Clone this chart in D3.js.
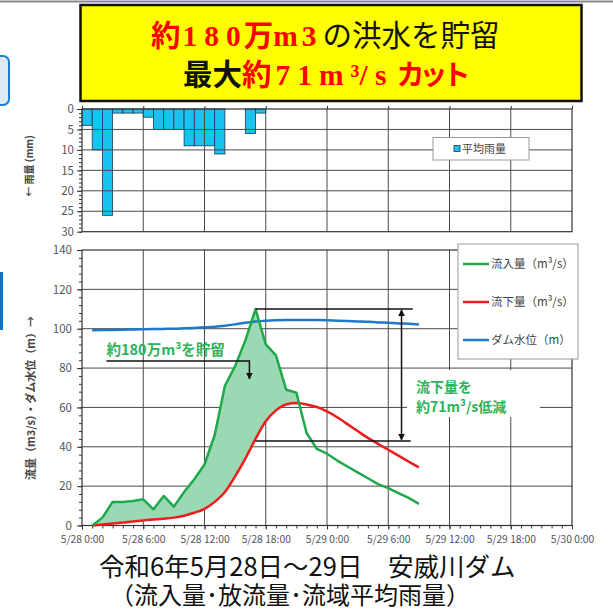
<!DOCTYPE html>
<html>
<head>
<meta charset="utf-8">
<script src="https://cdn.jsdelivr.net/npm/d3@7"></script>
<style>
  body { margin: 0; background: #fff; }
  svg { display: block; }
  text { font-family: "Noto Sans CJK JP", sans-serif; }
</style>
</head>
<body>
<div id="chart"></div>
<script>
// data (hours from 5/28 0:00)
var rainHours = [0, 1, 2, 3, 4, 5, 6, 7, 8, 9, 10, 11, 12, 13, 14, 15, 16, 17];
var rainMm = [4, 10, 26, 1, 1, 1, 2, 5, 5, 5, 9, 9, 9, 11, 0, 0, 6, 1];

var flowHours = [1, 2, 3, 4, 5, 6, 7, 8, 9, 10, 11, 12, 13, 14, 15, 16, 17,
                 18, 19, 20, 21, 22, 23, 24, 25, 26, 27, 28, 29, 30, 31, 32, 33];
var inflow = [0, 4, 12, 12, 12.5, 13.3, 8.2, 15, 9.6, 17, 23.5, 31, 46, 71, 81, 94, 110,
              92, 86.5, 69, 67.5, 47, 39, 36.5, 33, 30, 27, 24, 21, 19, 16.5, 14, 11];
var outflow = [0, 0.5, 1, 1.5, 2, 2.6, 3, 3.4, 4, 5, 6.5, 8.5, 12, 17, 25, 34, 44,
               53, 58.5, 61.5, 62.2, 61.5, 60.2, 58, 55, 51.5, 48, 44.5, 41.5, 38.5, 35.5, 32.5, 29.5];
var damLevel = [99.2, 99.3, 99.4, 99.5, 99.6, 99.7, 99.8, 99.9, 100, 100.2, 100.4, 100.7, 101,
                101.5, 102.2, 103, 103.7, 104.1, 104.3, 104.4, 104.4, 104.4, 104.4, 104.3,
                104.1, 103.9, 103.7, 103.5, 103.2, 103, 102.7, 102.5, 102.2];

var timeTicks = [0, 6, 12, 18, 24, 30, 36, 42, 48];
var timeLabels = ["5/28 0:00", "5/28 6:00", "5/28 12:00", "5/28 18:00", "5/29 0:00",
                  "5/29 6:00", "5/29 12:00", "5/29 18:00", "5/30 0:00"];
var rainTicks = [0, 5, 10, 15, 20, 25, 30];
var flowTicks = [0, 20, 40, 60, 80, 100, 120, 140];

var legendNames = ["流入量（m³/s）", "流下量（m³/s）", "ダム水位（m）"];
var legendColors = ["#20a84c", "#ee1d1d", "#1f78c8"];

// annotation values
var peakInflow = 110;
var cutLevel = 43;

var svgWidth = 613;
var svgHeight = 609;

var svg = d3.select("#chart").append("svg")
    .attr("width", svgWidth)
    .attr("height", svgHeight);

var defs = svg.append("defs");

// slide bits around the chart
svg.append("line").attr("x1", 0).attr("x2", svgWidth).attr("y1", 1.5).attr("y2", 1.5)
    .attr("stroke", "#8a8a8a").attr("stroke-width", 2);
svg.append("rect").attr("x", -10).attr("y", 56).attr("width", 19).attr("height", 49)
    .attr("rx", 6).attr("fill", "#dfe9f5").attr("stroke", "#1b7dd0").attr("stroke-width", 2);
svg.append("rect").attr("x", 0).attr("y", 272).attr("width", 3).attr("height", 58)
    .attr("fill", "#0a72c8");

// scales
var x = d3.scaleLinear().domain([0, 48]).range([82, 572]);
var yRain = d3.scaleLinear().domain([0, 30]).range([109, 231.7]);
var yFlow = d3.scaleLinear().domain([0, 140]).range([525.5, 250]);

var gridColor = "#4a4a4a";

// ---------- rain chart ----------
var rainG = svg.append("g");

rainG.selectAll(".rain-bar")
    .data(rainHours)
    .enter()
    .append("rect")
    .attr("class", "rain-bar")
    .attr("x", d => x(d))
    .attr("y", yRain(0))
    .attr("width", d => x(d + 1) - x(d))
    .attr("height", (d, i) => yRain(rainMm[i]) - yRain(0))
    .attr("fill", "#18c3f0")
    .attr("stroke", "#20384f")
    .attr("stroke-width", 0.8);

rainG.selectAll(".rain-hgrid")
    .data(rainTicks.slice(1, -1))
    .enter()
    .append("line")
    .attr("x1", x(0)).attr("x2", x(48))
    .attr("y1", d => yRain(d)).attr("y2", d => yRain(d))
    .attr("stroke", gridColor).attr("stroke-width", 1);

rainG.selectAll(".rain-vgrid")
    .data(timeTicks.slice(1, -1))
    .enter()
    .append("line")
    .attr("x1", d => x(d)).attr("x2", d => x(d))
    .attr("y1", yRain(0)).attr("y2", yRain(30))
    .attr("stroke", gridColor).attr("stroke-width", 1);

rainG.append("rect")
    .attr("x", x(0)).attr("y", yRain(0))
    .attr("width", x(48) - x(0)).attr("height", yRain(30) - yRain(0))
    .attr("fill", "none").attr("stroke", "#333").attr("stroke-width", 1.2);

// left axis + minor ticks
var rainAxis = rainG.append("g")
    .attr("transform", `translate(${x(0)},0)`)
    .call(d3.axisLeft(yRain).tickValues(rainTicks).tickSize(5).tickPadding(3));
var rainMinor = rainG.append("g")
    .attr("transform", `translate(${x(0)},0)`)
    .call(d3.axisLeft(yRain).tickValues(d3.range(0, 31, 1)).tickSize(3).tickFormat(""));
// top ticks
var rainTop = rainG.append("g")
    .attr("transform", `translate(0,${yRain(0)})`)
    .call(d3.axisTop(x).tickValues(timeTicks).tickSize(3).tickFormat(""));

[rainAxis, rainMinor, rainTop].forEach(function(g) {
    g.select(".domain").remove();
    g.selectAll("line").attr("stroke", "#333");
    g.selectAll("text").attr("fill", "#555").style("font-size", "11.5px");
});

rainG.append("text")
    .attr("transform", "translate(33,166) rotate(-90)")
    .attr("text-anchor", "middle")
    .style("font-size", "10px")
    .style("font-weight", "bold")
    .attr("fill", "#444")
    .text("← 雨量 (mm)");

// rain legend
var rainLegend = rainG.append("g");
rainLegend.append("rect")
    .attr("x", 433).attr("y", 137.5).attr("width", 96).attr("height", 22.5)
    .attr("fill", "#fff").attr("stroke", "#999");
rainLegend.append("rect")
    .attr("x", 454).attr("y", 145.5).attr("width", 6).attr("height", 6)
    .attr("fill", "#18c3f0").attr("stroke", "#20384f").attr("stroke-width", 0.8);
rainLegend.append("text")
    .attr("x", 462).attr("y", 152.5)
    .style("font-size", "11px")
    .attr("fill", "#444")
    .text("平均雨量");

// ---------- flow chart ----------
var flowG = svg.append("g");

flowG.selectAll(".flow-hgrid")
    .data(flowTicks.slice(1, -1))
    .enter()
    .append("line")
    .attr("x1", x(0)).attr("x2", x(48))
    .attr("y1", d => yFlow(d)).attr("y2", d => yFlow(d))
    .attr("stroke", gridColor).attr("stroke-width", 1);

flowG.selectAll(".flow-vgrid")
    .data(timeTicks.slice(1, -1))
    .enter()
    .append("line")
    .attr("x1", d => x(d)).attr("x2", d => x(d))
    .attr("y1", yFlow(0)).attr("y2", yFlow(140))
    .attr("stroke", gridColor).attr("stroke-width", 1);

flowG.append("rect")
    .attr("x", x(0)).attr("y", yFlow(140))
    .attr("width", x(48) - x(0)).attr("height", yFlow(0) - yFlow(140))
    .attr("fill", "none").attr("stroke", "#333").attr("stroke-width", 1.2);

var flowAxis = flowG.append("g")
    .attr("transform", `translate(${x(0)},0)`)
    .call(d3.axisLeft(yFlow).tickValues(flowTicks).tickSize(5).tickPadding(5));
var flowMinor = flowG.append("g")
    .attr("transform", `translate(${x(0)},0)`)
    .call(d3.axisLeft(yFlow).tickValues(d3.range(0, 141, 4)).tickSize(3).tickFormat(""));
var timeAxis = flowG.append("g")
    .attr("transform", `translate(0,${yFlow(0)})`)
    .call(d3.axisBottom(x).tickValues(timeTicks).tickSize(4).tickPadding(6)
        .tickFormat((d, i) => timeLabels[i]));
var timeMinor = flowG.append("g")
    .attr("transform", `translate(0,${yFlow(0)})`)
    .call(d3.axisBottom(x).tickValues(d3.range(0, 49, 1)).tickSize(3).tickFormat(""));

[flowAxis, flowMinor, timeAxis, timeMinor].forEach(function(g) {
    g.select(".domain").remove();
    g.selectAll("line").attr("stroke", "#333");
    g.selectAll("text").attr("fill", "#555").style("font-size", "11.5px");
});
timeAxis.selectAll("text").style("font-size", "10.3px");

flowG.append("text")
    .attr("transform", "translate(35,398) rotate(-90)")
    .attr("text-anchor", "middle")
    .style("font-size", "11px")
    .style("font-weight", "bold")
    .attr("fill", "#444")
    .text("流量（m3/s）・ダム水位（m）→");

// storage area: only where inflow is above outflow
var flowRows = flowHours.map((h, i) => ({h: h, inQ: inflow[i], outQ: outflow[i], lev: damLevel[i]}));

defs.append("clipPath")
    .attr("id", "aboveOutflow")
    .append("path")
    .datum(flowRows)
    .attr("d", d3.area().curve(d3.curveMonotoneX)
        .x(d => x(d.h))
        .y0(d => yFlow(d.outQ))
        .y1(yFlow(140)));

flowG.append("path")
    .datum(flowRows)
    .attr("fill", "#9ad9b3")
    .attr("clip-path", "url(#aboveOutflow)")
    .attr("d", d3.area()
        .x(d => x(d.h))
        .y0(yFlow(0))
        .y1(d => yFlow(d.inQ)));

// white box behind the reduction text
flowG.append("rect")
    .attr("x", 407).attr("y", 370).attr("width", 133).attr("height", 47)
    .attr("fill", "#fff");

flowG.append("path")
    .datum(flowRows)
    .attr("fill", "none")
    .attr("stroke", legendColors[1])
    .attr("stroke-width", 2.5)
    .attr("d", d3.line().curve(d3.curveMonotoneX).x(d => x(d.h)).y(d => yFlow(d.outQ)));

flowG.append("path")
    .datum(flowRows)
    .attr("fill", "none")
    .attr("stroke", legendColors[2])
    .attr("stroke-width", 2.5)
    .attr("d", d3.line().curve(d3.curveMonotoneX).x(d => x(d.h)).y(d => yFlow(d.lev)));

flowG.append("path")
    .datum(flowRows)
    .attr("fill", "none")
    .attr("stroke", legendColors[0])
    .attr("stroke-width", 2.5)
    .attr("stroke-linejoin", "round")
    .attr("d", d3.line().x(d => x(d.h)).y(d => yFlow(d.inQ)));

// arrow marker
defs.append("marker")
    .attr("id", "arrow")
    .attr("viewBox", "0 0 10 10")
    .attr("refX", 9).attr("refY", 5)
    .attr("markerWidth", 7).attr("markerHeight", 7)
    .attr("markerUnits", "userSpaceOnUse")
    .attr("orient", "auto-start-reverse")
    .append("path")
    .attr("d", "M0,0 L10,5 L0,10 Z")
    .attr("fill", "#111");

// peak / cut lines with double arrow
flowG.append("line")
    .attr("x1", x(17)).attr("x2", x(32.4))
    .attr("y1", yFlow(peakInflow)).attr("y2", yFlow(peakInflow))
    .attr("stroke", "#111").attr("stroke-width", 1.5);
flowG.append("line")
    .attr("x1", x(17)).attr("x2", x(32.2))
    .attr("y1", yFlow(cutLevel)).attr("y2", yFlow(cutLevel))
    .attr("stroke", "#111").attr("stroke-width", 1.5);
flowG.append("line")
    .attr("x1", x(31.3)).attr("x2", x(31.3))
    .attr("y1", yFlow(peakInflow) + 1).attr("y2", yFlow(cutLevel) - 1)
    .attr("stroke", "#111").attr("stroke-width", 1.5)
    .attr("marker-start", "url(#arrow)")
    .attr("marker-end", "url(#arrow)");

flowG.append("text")
    .attr("x", 416).attr("y", 392)
    .style("font-size", "14px").style("font-weight", "bold")
    .attr("fill", "#2db35a")
    .text("流下量を");
flowG.append("text")
    .attr("x", 416).attr("y", 412)
    .style("font-size", "14px").style("font-weight", "bold")
    .attr("fill", "#2db35a")
    .text("約71m³/s低減");

// storage note with bent arrow
flowG.append("text")
    .attr("x", x(2.4)).attr("y", yFlow(86.5))
    .style("font-size", "14.5px").style("font-weight", "bold")
    .attr("fill", "#2db35a")
    .text("約180万m³を貯留");
flowG.append("path")
    .attr("d", `M${x(2.4)},${yFlow(83.6)} H${x(16.4)} V${yFlow(74.5)}`)
    .attr("fill", "none")
    .attr("stroke", "#111").attr("stroke-width", 1.5)
    .attr("marker-end", "url(#arrow)");

// flow legend
var legend = flowG.append("g");
legend.append("rect")
    .attr("x", 458).attr("y", 244).attr("width", 120).attr("height", 115)
    .attr("fill", "#fff").attr("stroke", "#999");
legendNames.forEach(function(name, i) {
    var ly = 264 + i * 38;
    legend.append("line")
        .attr("x1", 463).attr("x2", 489).attr("y1", ly).attr("y2", ly)
        .attr("stroke", legendColors[i]).attr("stroke-width", 2.5);
    legend.append("text")
        .attr("x", 491).attr("y", ly + 4)
        .style("font-size", "11.5px")
        .attr("fill", "#444")
        .text(name);
});

// ---------- yellow headline box ----------
svg.append("rect")
    .attr("x", 80.5).attr("y", 5).attr("width", 501).attr("height", 96)
    .attr("fill", "#ffff00").attr("stroke", "#111").attr("stroke-width", 2.5);

var serif = "'Liberation Serif', 'DejaVu Serif', serif";

var line1 = svg.append("text").attr("x", 151).attr("y", 46).style("font-size", "29.5px");
line1.append("tspan").attr("fill", "#ff0000").style("font-weight", "bold").text("約");
line1.append("tspan").attr("fill", "#ff0000").style("font-weight", "bold")
    .style("font-family", serif).style("letter-spacing", "7px").attr("dx", 2).text("180");
line1.append("tspan").attr("fill", "#ff0000").style("font-weight", "bold").attr("dx", -4).text("万");
line1.append("tspan").attr("fill", "#ff0000").style("font-weight", "bold")
    .style("font-family", serif).style("letter-spacing", "4px").text("m3");
line1.append("tspan").attr("fill", "#111").attr("dx", 2).text("の洪水を貯留");

var line2 = svg.append("text").attr("x", 183).attr("y", 85).style("font-size", "29.5px");
line2.append("tspan").attr("fill", "#111").style("font-weight", "bold").text("最大");
line2.append("tspan").attr("fill", "#ff0000").style("font-weight", "bold").text("約");
line2.append("tspan").attr("fill", "#ff0000").style("font-weight", "bold")
    .style("font-family", serif).style("letter-spacing", "7px").attr("dx", 4).text("71m");
line2.append("tspan").attr("fill", "#ff0000").style("font-weight", "bold")
    .style("font-family", serif).text("³/ s");
line2.append("tspan").attr("fill", "#ff0000").style("font-weight", "bold")
    .style("font-size", "28px").style("letter-spacing", "-5px").attr("dx", 10).text("カット");

// ---------- caption ----------
svg.append("text")
    .attr("x", 99).attr("y", 576)
    .style("font-size", "25.5px")
    .attr("fill", "#111")
    .text("令和6年5月28日～29日　安威川ダム");
svg.append("text")
    .attr("x", 110).attr("y", 604)
    .style("font-size", "24px")
    .attr("fill", "#111")
    .text("（流入量･放流量･流域平均雨量）");
</script>
</body>
</html>
